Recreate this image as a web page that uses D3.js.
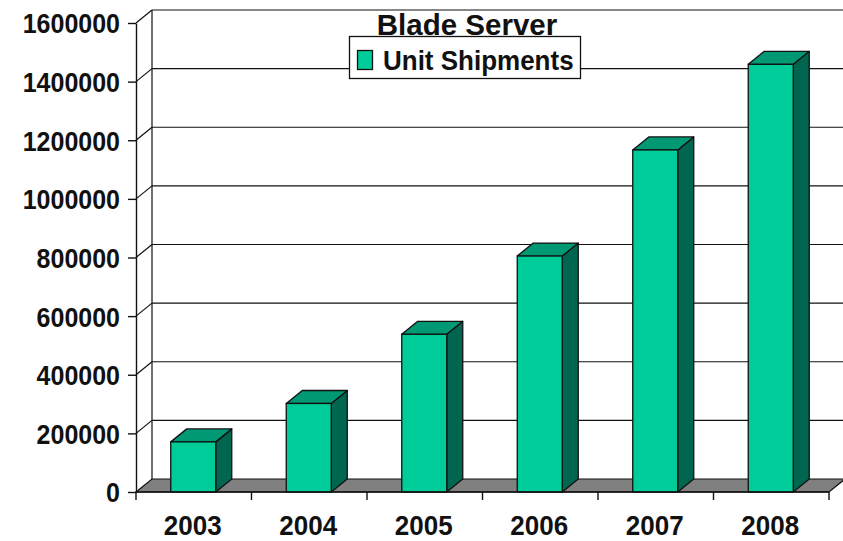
<!DOCTYPE html>
<html><head><meta charset="utf-8">
<script src="https://cdn.jsdelivr.net/npm/d3@7"></script>
<style>body{margin:0;background:#fff}svg{display:block}text{font-family:"Liberation Sans",Arial,sans-serif;font-weight:bold;fill:#111}</style>
</head><body><svg id="c" width="843" height="541"></svg>
<script>
const years = ["2003","2004","2005","2006","2007","2008"];
const shipments = [171000, 302000, 538000, 805000, 1167000, 1459000];
const yTicks = [0,200000,400000,600000,800000,1000000,1200000,1400000,1600000];
const seriesName = "Unit Shipments";
const title = "Blade Server";

const svg = d3.select("#c");
const dx = 16, dy = 13;
const x = d3.scaleBand().domain(years).range([136, 829]).padding(0);
const y = d3.scaleLinear().domain([0, 1600000]).range([492, 23]);
const xl = x.range()[0], xr = x.range()[1];
const y0 = y(0);

// back wall gridlines
svg.append("g").selectAll("line").data(yTicks.filter(d=>d>0)).join("line")
  .attr("x1", xl+dx).attr("x2", 843).attr("y1", d=>y(d)-dy).attr("y2", d=>y(d)-dy)
  .attr("stroke","#111").attr("stroke-width",1.2);
// left wall diagonals
svg.append("g").selectAll("line").data(yTicks.filter(d=>d>0)).join("line")
  .attr("x1", xl).attr("x2", xl+dx).attr("y1", d=>y(d)).attr("y2", d=>y(d)-dy)
  .attr("stroke","#111").attr("stroke-width",1.2);
// back wall left edge
svg.append("line").attr("x1",xl+dx).attr("x2",xl+dx).attr("y1",y(1600000)-dy).attr("y2",y0-dy)
  .attr("stroke","#111").attr("stroke-width",1.2);
// floor
svg.append("polygon")
  .attr("points",[[xl,y0],[xr,y0],[xr+dx,y0-dy],[xl+dx,y0-dy]].map(p=>p.join(",")).join(" "))
  .attr("fill","#808080").attr("stroke","#111").attr("stroke-width",1.2);

// bars
const bw = 45;
const bars = svg.append("g").selectAll("g").data(years.map((yr,i)=>({yr,v:shipments[i]}))).join("g");
bars.each(function(d){
  const g = d3.select(this);
  const x0 = x(d.yr) + x.bandwidth()/2 - bw/2 - 0.5;
  const yv = y(d.v);
  g.append("polygon").attr("points",[[x0+bw,yv],[x0+bw+dx,yv-dy],[x0+bw+dx,y0-dy],[x0+bw,y0]].map(p=>p.join(",")).join(" "))
    .attr("fill","#006650").attr("stroke","#111").attr("stroke-width",1.3).attr("stroke-linejoin","round");
  g.append("polygon").attr("points",[[x0,yv],[x0+dx,yv-dy],[x0+bw+dx,yv-dy],[x0+bw,yv]].map(p=>p.join(",")).join(" "))
    .attr("fill","#009973").attr("stroke","#111").attr("stroke-width",1.3).attr("stroke-linejoin","round");
  g.append("rect").attr("x",x0).attr("y",yv).attr("width",bw).attr("height",y0-yv)
    .attr("fill","#00CC99").attr("stroke","#111").attr("stroke-width",1.3);
});

// y axis
const ya = svg.append("g").attr("transform",`translate(${xl},0)`)
  .call(d3.axisLeft(y).tickValues(yTicks).tickFormat(d3.format("d")).tickSize(8).tickSizeOuter(0).tickPadding(8));
ya.select(".domain").attr("stroke","#111").attr("stroke-width",1.4);
ya.selectAll(".tick line").attr("stroke","#111").attr("stroke-width",1.4);
ya.selectAll(".tick text").attr("font-size",25).attr("font-family",null).attr("fill","#111")
  .attr("dy","0.36em").attr("transform","scale(1,1.1)");

// x axis
svg.append("line").attr("x1",xl).attr("x2",xr).attr("y1",y0).attr("y2",y0).attr("stroke","#111").attr("stroke-width",1.4);
const edges = years.map(d=>x(d)).concat([xr]);
svg.append("g").selectAll("line").data(edges).join("line")
  .attr("x1",d=>d).attr("x2",d=>d).attr("y1",y0).attr("y2",y0+8).attr("stroke","#111").attr("stroke-width",1.4);
svg.append("g").selectAll("text").data(years).join("text")
  .attr("text-anchor","middle").attr("font-size",26)
  .attr("transform",d=>`translate(${x(d)+x.bandwidth()/2-1},535) scale(1,1.08)`)
  .text(d=>d);

// legend
const lg = svg.append("g");
lg.append("rect").attr("x",349.5).attr("y",36.5).attr("width",231).attr("height",42)
  .attr("fill","#fff").attr("stroke","#111").attr("stroke-width",1.3);
lg.append("rect").attr("x",357.5).attr("y",50.5).attr("width",15).attr("height",19)
  .attr("fill","#00CC99").attr("stroke","#111").attr("stroke-width",1.3);
lg.append("text").attr("transform","translate(383,70) scale(1,1.08)").attr("font-size",26).text(seriesName);

// title
svg.append("text").attr("x",467).attr("y",35).attr("text-anchor","middle").attr("font-size",29.5).text(title);
</script></body></html>
